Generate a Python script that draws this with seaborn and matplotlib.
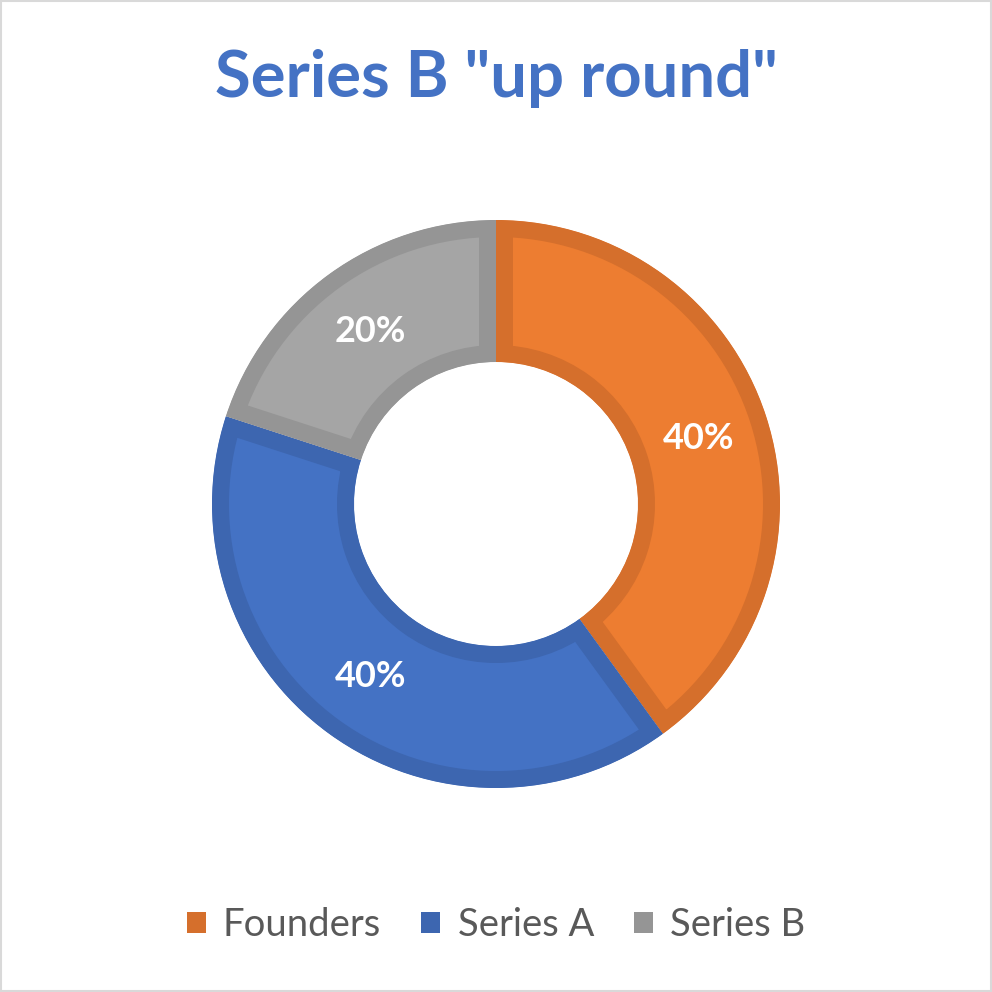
import matplotlib
matplotlib.use("Agg")
import numpy as np
import matplotlib.pyplot as plt
import seaborn as sns
from matplotlib.patches import Patch, Rectangle

# data
categories = ["Founders", "Series A", "Series B"]
shares = [40, 40, 20]
labels = ["40%", "40%", "20%"]

fill_colors = ["#ED7D31", "#4472C4", "#A5A5A5"]
edge_colors = ["#D56F2C", "#3D66B0", "#959595"]

sns.set_theme(style="white")
plt.rcParams["font.family"] = ["Lato", "DejaVu Sans"]

W = 992
fig = plt.figure(figsize=(9.92, 9.92), dpi=100)
px = 72 / 100  # points per pixel

# donut placement (pixels from the top-left)
cx, cy, R = 496, 504, 284
ax = fig.add_axes([(cx - R) / W, (W - cy - R) / W, 2 * R / W, 2 * R / W])

wedges, texts = ax.pie(
    shares, colors=fill_colors, startangle=90, counterclock=False,
    radius=1, wedgeprops=dict(width=0.5, linewidth=34 * px),
)
ax.set_xlim(-1, 1)
ax.set_ylim(-1, 1)
ax.set_aspect("equal")
ax.axis("off")

# inner stroke: thick edge clipped to the wedge's own outline
# (pie makes its wedges with clip_on=False, so switch it back on)
for w, ec in zip(wedges, edge_colors):
    w.set_edgecolor(ec)
    w.set_clip_on(True)
    w.set_clip_path(w.get_path(), ax.transData)

# percentage labels in the middle of the ring
start = 90.0
for val, lab in zip(shares, labels):
    mid = np.deg2rad(start - val * 3.6 / 2)
    ax.text(0.75 * np.cos(mid), 0.75 * np.sin(mid), lab, color="white",
            fontsize=26, fontweight="bold", ha="center", va="center")
    start -= val * 3.6

fig.text(0.5, 1 - 97 / W, 'Series B "up round"', color="#4472C4",
         fontsize=47, fontweight="bold", ha="center", va="baseline")

handles = [Patch(facecolor=c, edgecolor="none") for c in edge_colors]
fig.legend(handles, categories, loc="center", bbox_to_anchor=(0.5, 1 - 925 / W),
           ncol=3, frameon=False, fontsize=27.5, labelcolor="#595959",
           handlelength=0.5, handleheight=0.5, handletextpad=0.45,
           columnspacing=1.05)

# chart area border
fig.patches.append(Rectangle((0.001, 0.001), 0.998, 0.998, transform=fig.transFigure,
                             fill=False, edgecolor="#D9D9D9", linewidth=1.5))

fig.savefig("out.png", dpi=100)
